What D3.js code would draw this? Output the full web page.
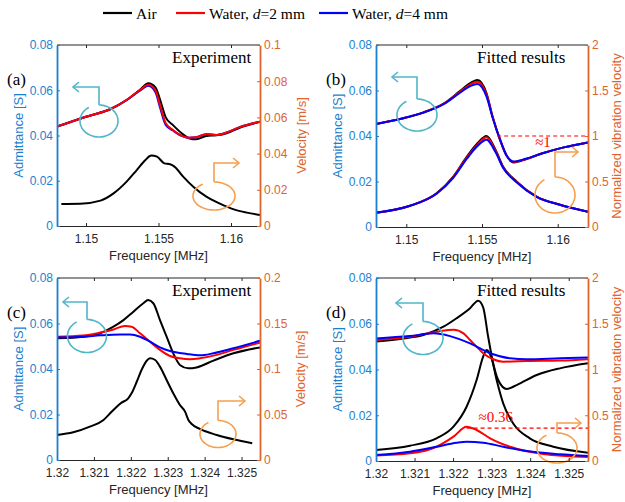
<!DOCTYPE html>
<html>
<head>
<meta charset="utf-8">
<script src="https://cdn.jsdelivr.net/npm/d3@7"></script>
<style>
  body { margin: 0; background: #fff; }
  svg { display: block; }
</style>
</head>
<body>
<svg id="chart" width="625" height="502"></svg>
<script>
// ---------- series ----------
const seriesNames  = ["Air", "Water, d=2 mm", "Water, d=4 mm"];
const seriesColors = ["#000000", "#ff0000", "#0000ff"];

// ---------- tick values ----------
const ticksF1   = [1.15, 1.155, 1.16];
const ticksF2   = [1.32, 1.321, 1.322, 1.323, 1.324, 1.325];
const ticksAdm  = [0, 0.02, 0.04, 0.06, 0.08];
const ticksVelA = [0, 0.02, 0.04, 0.06, 0.08, 0.1];
const ticksVelC = [0, 0.05, 0.1, 0.15, 0.2];
const ticksNorm = [0, 0.5, 1, 1.5, 2];

// ---------- (a) measured, 1.15 MHz mode ----------
const freqAdmA = [1.148, 1.1500, 1.1517, 1.1528, 1.1537, 1.1543, 1.1548, 1.1551, 1.1555, 1.1560, 1.1566, 1.1571, 1.1576, 1.1583, 1.1590, 1.1597, 1.1606, 1.162];
const admAirA  = [0.0439, 0.0483, 0.0517, 0.0557, 0.0601, 0.0631, 0.0612, 0.0560, 0.0480, 0.0446, 0.0410, 0.0388, 0.0383, 0.0398, 0.0401, 0.0410, 0.0434, 0.0461];
const admW2A   = [0.0439, 0.0483, 0.0517, 0.0557, 0.0600, 0.0624, 0.0598, 0.0535, 0.0454, 0.0424, 0.0398, 0.0390, 0.0392, 0.0407, 0.0402, 0.0413, 0.0437, 0.0461];
const admW4A   = [0.0439, 0.0483, 0.0517, 0.0556, 0.0597, 0.0620, 0.0590, 0.0525, 0.0447, 0.0422, 0.0398, 0.0390, 0.0392, 0.0406, 0.0402, 0.0413, 0.0437, 0.0461];
const freqVelA = [1.1483, 1.1496, 1.1510, 1.1519, 1.1528, 1.1535, 1.1541, 1.1545, 1.1549, 1.1554, 1.1558, 1.1561, 1.1567, 1.1574, 1.1583, 1.1592, 1.1602, 1.1611, 1.162];
const velAirA  = [0.0122, 0.0123, 0.0140, 0.0180, 0.0245, 0.0309, 0.0365, 0.0389, 0.0383, 0.0346, 0.0341, 0.0328, 0.0273, 0.0217, 0.0162, 0.0125, 0.0092, 0.0074, 0.0061];

// ---------- (b) fitted, 1.15 MHz mode ----------
const freqAdmB = [1.148, 1.1498, 1.1511, 1.1525, 1.1535, 1.1541, 1.1547, 1.1553, 1.1557, 1.1562, 1.1566, 1.1571, 1.1579, 1.1590, 1.1604, 1.162];
const admAirB  = [0.0453, 0.0478, 0.0503, 0.0544, 0.0595, 0.0627, 0.0646, 0.0588, 0.0485, 0.0382, 0.0316, 0.0284, 0.0298, 0.0324, 0.0350, 0.0372];
const admW2B   = [0.0453, 0.0478, 0.0503, 0.0543, 0.0592, 0.0622, 0.0639, 0.0582, 0.0484, 0.0382, 0.0317, 0.0286, 0.0299, 0.0324, 0.0350, 0.0372];
const admW4B   = [0.0453, 0.0478, 0.0502, 0.0541, 0.0588, 0.0615, 0.0629, 0.0573, 0.0481, 0.0383, 0.0318, 0.0288, 0.0300, 0.0324, 0.0350, 0.0372];
const freqVelB = [1.148, 1.1502, 1.1520, 1.1531, 1.1540, 1.1547, 1.1553, 1.1559, 1.1564, 1.1573, 1.1586, 1.1602, 1.162];
const velAirB  = [0.157, 0.231, 0.370, 0.553, 0.773, 0.920, 1.000, 0.846, 0.663, 0.498, 0.333, 0.242, 0.168];
const velW2B   = [0.157, 0.231, 0.368, 0.548, 0.763, 0.905, 0.985, 0.835, 0.657, 0.495, 0.333, 0.242, 0.168];
const velW4B   = [0.157, 0.230, 0.365, 0.540, 0.750, 0.890, 0.960, 0.820, 0.648, 0.490, 0.332, 0.242, 0.168];
const ratioB   = 1;

// ---------- (c) measured, 1.32 MHz mode ----------
const freqAdmAirC = [1.32, 1.32071, 1.32117, 1.32153, 1.3218, 1.32207, 1.32234, 1.32247, 1.32261, 1.32279, 1.32297, 1.32315, 1.32333, 1.32356, 1.32378, 1.32424, 1.32478, 1.3255];
const admAirC     = [0.0535, 0.0542, 0.0557, 0.0586, 0.0615, 0.0652, 0.0689, 0.0703, 0.0689, 0.0615, 0.0542, 0.0469, 0.0418, 0.0403, 0.0407, 0.0437, 0.0469, 0.0495];
const freqAdmW2C  = [1.32, 1.32071, 1.32117, 1.32153, 1.32184, 1.32202, 1.32225, 1.32252, 1.32279, 1.32306, 1.32333, 1.3236, 1.32387, 1.32433, 1.32478, 1.3255];
const admW2C      = [0.0542, 0.0547, 0.0560, 0.0574, 0.0589, 0.0586, 0.0557, 0.0520, 0.0484, 0.0457, 0.0447, 0.0443, 0.0447, 0.0462, 0.0484, 0.0516];
const freqAdmW4C  = [1.32, 1.32071, 1.32117, 1.32171, 1.32198, 1.32225, 1.32252, 1.32279, 1.32306, 1.32352, 1.32387, 1.32424, 1.32478, 1.3255];
const admW4C      = [0.0539, 0.0542, 0.0548, 0.0552, 0.0552, 0.0542, 0.0520, 0.0495, 0.0479, 0.0466, 0.0460, 0.0469, 0.0491, 0.0524];
const freqVelC    = [1.32, 1.32044, 1.32089, 1.32126, 1.32144, 1.32162, 1.32175, 1.32193, 1.32202, 1.32216, 1.32229, 1.32243, 1.32252, 1.32266, 1.32279, 1.32297, 1.32315, 1.32333, 1.32347, 1.32356, 1.32365, 1.32387, 1.32433, 1.32478, 1.32529];
const velAirC     = [0.0275, 0.0304, 0.0366, 0.0440, 0.0513, 0.0586, 0.0630, 0.0678, 0.0733, 0.0860, 0.0989, 0.1091, 0.1117, 0.1099, 0.1026, 0.0879, 0.0733, 0.0604, 0.0531, 0.0440, 0.0396, 0.0341, 0.0275, 0.0227, 0.0183];

// ---------- (d) fitted, 1.32 MHz mode ----------
const freqAdmAirD = [1.32, 1.32071, 1.32123, 1.32175, 1.32209, 1.32244, 1.32265, 1.32278, 1.32291, 1.32303, 1.32317, 1.32339, 1.32365, 1.32417, 1.32477, 1.3255];
const admAirD     = [0.0522, 0.0536, 0.0551, 0.0587, 0.0624, 0.0668, 0.0701, 0.0672, 0.0543, 0.0435, 0.0354, 0.0315, 0.0332, 0.0376, 0.0405, 0.0427];
const freqAdmW2D  = [1.32, 1.32088, 1.32157, 1.32201, 1.32227, 1.32244, 1.32261, 1.32278, 1.32304, 1.3233, 1.32391, 1.32477, 1.3255];
const admW2D      = [0.0529, 0.0543, 0.0565, 0.0574, 0.0558, 0.0529, 0.0500, 0.0471, 0.0445, 0.0434, 0.0437, 0.0439, 0.0445];
const freqAdmW4D  = [1.32, 1.32088, 1.32149, 1.32192, 1.32244, 1.32296, 1.32348, 1.32391, 1.32477, 1.3255];
const admW4D      = [0.0536, 0.0546, 0.0558, 0.0546, 0.0514, 0.0471, 0.0449, 0.0445, 0.0449, 0.0452];
const freqVelAirD = [1.32, 1.32088, 1.32157, 1.32201, 1.32235, 1.32261, 1.32278, 1.32287, 1.323, 1.32313, 1.3233, 1.32356, 1.32399, 1.3246, 1.3255];
const velAirD     = [0.120, 0.167, 0.248, 0.375, 0.593, 0.885, 1.140, 1.213, 1.120, 0.885, 0.630, 0.410, 0.248, 0.156, 0.091];
const freqVelW2D  = [1.32, 1.32088, 1.32157, 1.32201, 1.32235, 1.32261, 1.32296, 1.32348, 1.32434, 1.3255];
const velW2D      = [0.060, 0.084, 0.156, 0.266, 0.375, 0.339, 0.248, 0.156, 0.077, 0.045];
const freqVelW4D  = [1.32, 1.32088, 1.32157, 1.32209, 1.32235, 1.32278, 1.3233, 1.32391, 1.32477, 1.3255];
const velW4D      = [0.066, 0.102, 0.156, 0.200, 0.211, 0.200, 0.156, 0.109, 0.073, 0.055];
const ratioD      = 0.36;

// ---------- styling ----------
const leftColor  = "#1b7fcf";
const rightColor = "#e0642c";
const cyanArrow  = "#52b5c8";
const orangeArrow = "#f5a050";
const sansFont  = "'Liberation Sans', Arial, sans-serif";
const serifFont = "'Liberation Serif', 'Times New Roman', serif";
const fmt = d3.format("~g");

const svg = d3.select("#chart");

const pts = (f, v) => f.map((x, i) => [x, v[i]]);

// ---------- legend ----------
const legend = svg.append("g");
const legendX = [103, 176, 319];
seriesNames.forEach((name, i) => {
  const g = legend.append("g").attr("transform", `translate(${legendX[i]},13)`);
  g.append("line").attr("x1", 0).attr("x2", 29).attr("y1", 0).attr("y2", 0)
    .attr("stroke", seriesColors[i]).attr("stroke-width", 2.2);
  const t = g.append("text").attr("x", 33).attr("y", 5.5)
    .attr("font-family", serifFont).attr("font-size", 15.5).attr("fill", "#000");
  const k = name.indexOf("d=");
  if (k < 0) { t.text(name); }
  else {
    t.append("tspan").text(name.slice(0, k));
    t.append("tspan").attr("font-style", "italic").text("d");
    t.append("tspan").text(name.slice(k + 1));
  }
});

// ---------- panels ----------
const panels = [
  {
    id: "a", x0: 57, x1: 260, y0: 45, y1: 226,
    fDomain: [1.148, 1.162], fTicks: ticksF1,
    rMax: 0.1, rTicks: ticksVelA, rLabel: "Velocity [m/s]", rLabelDx: 46,
    title: "Experiment", titleX: 115, tag: "(a)",
    left: [
      { f: freqAdmA, v: admAirA, c: 0 },
      { f: freqAdmA, v: admW4A, c: 2 },
      { f: freqAdmA, v: admW2A, c: 1 }
    ],
    right: [ { f: freqVelA, v: velAirA, c: 0 } ],
    arrows: { cyan: { hx: 16, hy: 42, cx: 42, ey: 76, rx: 19, ry: 16 },
              orange: { hx: 182, hy: 118, cx: 157, ey: 151, rx: 21, ry: 14 } }
  },
  {
    id: "b", x0: 376, x1: 588, y0: 45, y1: 227,
    fDomain: [1.148, 1.162], fTicks: ticksF1,
    rMax: 2, rTicks: ticksNorm, rLabel: "Normalized vibration velocity", rLabelDx: 33,
    title: "Fitted results", titleX: 101, tag: "(b)",
    left: [
      { f: freqAdmB, v: admAirB, c: 0 },
      { f: freqAdmB, v: admW2B, c: 1 },
      { f: freqAdmB, v: admW4B, c: 2 }
    ],
    right: [
      { f: freqVelB, v: velAirB, c: 0 },
      { f: freqVelB, v: velW2B, c: 1 },
      { f: freqVelB, v: velW4B, c: 2 }
    ],
    ratio: { value: ratioB, label: "\u22481", fStart: 1.1560, labelDx: 38, labelDy: 11 },
    arrows: { cyan: { hx: 16, hy: 32, cx: 41, ey: 70, rx: 20, ry: 16 },
              orange: { hx: 202, hy: 107, cx: 179, ey: 150, rx: 20, ry: 18 } }
  },
  {
    id: "c", x0: 57, x1: 260, y0: 278, y1: 460,
    fDomain: [1.32, 1.3255], fTicks: ticksF2,
    rMax: 0.2, rTicks: ticksVelC, rLabel: "Velocity [m/s]", rLabelDx: 45,
    title: "Experiment", titleX: 115, tag: "(c)",
    left: [
      { f: freqAdmAirC, v: admAirC, c: 0 },
      { f: freqAdmW2C, v: admW2C, c: 1 },
      { f: freqAdmW4C, v: admW4C, c: 2 }
    ],
    right: [ { f: freqVelC, v: velAirC, c: 0 } ],
    arrows: { cyan: { hx: 6, hy: 24, cx: 30, ey: 58, rx: 19.5, ry: 16.5 },
              orange: { hx: 188, hy: 123, cx: 161, ey: 156, rx: 18, ry: 13.5 } }
  },
  {
    id: "d", x0: 376, x1: 588, y0: 278, y1: 461,
    fDomain: [1.32, 1.3255], fTicks: ticksF2,
    rMax: 2, rTicks: ticksNorm, rLabel: "Normalized vibration velocity", rLabelDx: 33,
    title: "Fitted results", titleX: 101, tag: "(d)",
    left: [
      { f: freqAdmAirD, v: admAirD, c: 0 },
      { f: freqAdmW2D, v: admW2D, c: 1 },
      { f: freqAdmW4D, v: admW4D, c: 2 }
    ],
    right: [
      { f: freqVelAirD, v: velAirD, c: 0 },
      { f: freqVelW2D, v: velW2D, c: 1 },
      { f: freqVelW4D, v: velW4D, c: 2 }
    ],
    ratio: { value: ratioD, label: "\u22480.36", fStart: 1.32235, labelDx: 12, labelDy: -6 },
    arrows: { cyan: { hx: 20, hy: 25, cx: 47, ey: 60, rx: 20, ry: 16.5 },
              orange: { hx: 205, hy: 145, cx: 181, ey: 170, rx: 20, ry: 15 } }
  }
];

function curlArrow(g, a, color, dir) {
  // stem from the loop top, bend, and run to the arrow head
  const top = a.ey - a.ry;
  g.append("path")
    .attr("d", `M${a.cx},${top} L${a.cx},${a.hy} L${a.hx},${a.hy}`)
    .attr("fill", "none").attr("stroke", color).attr("stroke-width", 1.6);
  const s = dir;   // -1 points left, +1 points right
  g.append("path")
    .attr("d", `M${a.hx - s * 6},${a.hy - 5} L${a.hx},${a.hy} L${a.hx - s * 6},${a.hy + 5}`)
    .attr("fill", "none").attr("stroke", color).attr("stroke-width", 1.6);
  // loop around the curve, left slightly open near the stem
  const pts = d3.range(-90, 242, 4).map(t => {
    const r = t * Math.PI / 180;
    return [a.cx + a.rx * Math.cos(r), a.ey + a.ry * Math.sin(r)];
  });
  g.append("path").attr("d", d3.line().curve(d3.curveCatmullRom)(pts))
    .attr("fill", "none").attr("stroke", color).attr("stroke-width", 1.6);
}

panels.forEach(p => {
  const x  = d3.scaleLinear().domain(p.fDomain).range([p.x0, p.x1]);
  const yL = d3.scaleLinear().domain([0, 0.08]).range([p.y1, p.y0]);
  const yR = d3.scaleLinear().domain([0, p.rMax]).range([p.y1, p.y0]);
  const g = svg.append("g");

  const clipId = "clip-" + p.id;
  svg.append("clipPath").attr("id", clipId).append("rect")
    .attr("x", p.x0).attr("y", p.y0).attr("width", p.x1 - p.x0).attr("height", p.y1 - p.y0);

  const plot = g.append("g").attr("clip-path", `url(#${clipId})`);
  const lineL = d3.line().x(d => x(d[0])).y(d => yL(d[1])).curve(d3.curveMonotoneX);
  const lineR = d3.line().x(d => x(d[0])).y(d => yR(d[1])).curve(d3.curveMonotoneX);

  p.right.forEach(s => {
    plot.append("path").attr("d", lineR(pts(s.f, s.v)))
      .attr("fill", "none").attr("stroke", seriesColors[s.c]).attr("stroke-width", 2)
      .attr("stroke-linejoin", "round");
  });
  p.left.forEach(s => {
    plot.append("path").attr("d", lineL(pts(s.f, s.v)))
      .attr("fill", "none").attr("stroke", seriesColors[s.c]).attr("stroke-width", 2)
      .attr("stroke-linejoin", "round");
  });

  // reference level for the peak ratio
  if (p.ratio) {
    const yy = yR(p.ratio.value);
    g.append("line").attr("x1", x(p.ratio.fStart)).attr("x2", p.x1)
      .attr("y1", yy).attr("y2", yy)
      .attr("stroke", "#ff0000").attr("stroke-width", 1.2).attr("stroke-dasharray", "4,3");
    g.append("text").attr("x", x(p.ratio.fStart) + p.ratio.labelDx).attr("y", yy + p.ratio.labelDy)
      .attr("font-family", serifFont).attr("font-size", 15).attr("fill", "#ff0000")
      .text(p.ratio.label);
  }

  // axis-ownership arrows
  const ag = g.append("g").attr("transform", `translate(${p.x0},${p.y0})`);
  curlArrow(ag, p.arrows.cyan, cyanArrow, -1);
  curlArrow(ag, p.arrows.orange, orangeArrow, 1);

  // frame top / bottom
  g.append("line").attr("x1", p.x0).attr("x2", p.x1).attr("y1", p.y0).attr("y2", p.y0)
    .attr("stroke", "#262626").attr("stroke-width", 1);

  // bottom axis
  const xa = g.append("g").attr("transform", `translate(0,${p.y1})`)
    .call(d3.axisBottom(x).tickValues(p.fTicks).tickFormat(fmt).tickSize(-3).tickPadding(8).tickSizeOuter(0));
  xa.select(".domain").attr("stroke", "#262626");
  xa.selectAll(".tick line").attr("stroke", "#262626");
  xa.selectAll("text").attr("font-family", sansFont).attr("font-size", 12).attr("fill", "#262626");

  // top axis ticks (box)
  const xt = g.append("g").attr("transform", `translate(0,${p.y0})`)
    .call(d3.axisTop(x).tickValues(p.fTicks).tickFormat("").tickSize(-3).tickSizeOuter(0));
  xt.select(".domain").remove();
  xt.selectAll(".tick line").attr("stroke", "#262626");

  // left axis
  const la = g.append("g").attr("transform", `translate(${p.x0},0)`)
    .call(d3.axisLeft(yL).tickValues(ticksAdm).tickFormat(fmt).tickSize(-3).tickPadding(4).tickSizeOuter(0));
  la.select(".domain").attr("stroke", leftColor).attr("stroke-width", 1.8);
  la.selectAll(".tick line").attr("stroke", leftColor);
  la.selectAll("text").attr("font-family", sansFont).attr("font-size", 12).attr("fill", leftColor);

  // right axis
  const ra = g.append("g").attr("transform", `translate(${p.x1},0)`)
    .call(d3.axisRight(yR).tickValues(p.rTicks).tickFormat(fmt).tickSize(-3).tickPadding(4).tickSizeOuter(0));
  ra.select(".domain").attr("stroke", rightColor).attr("stroke-width", 1.8);
  ra.selectAll(".tick line").attr("stroke", rightColor);
  ra.selectAll("text").attr("font-family", sansFont).attr("font-size", 12).attr("fill", rightColor);

  // axis titles
  const cy = (p.y0 + p.y1) / 2;
  g.append("text").attr("transform", `translate(${p.x0 - 34},${cy}) rotate(-90)`)
    .attr("text-anchor", "middle").attr("font-family", sansFont).attr("font-size", 13)
    .attr("fill", leftColor).text("Admittance [S]");
  g.append("text").attr("transform", `translate(${p.x1 + p.rLabelDx},${cy}) rotate(-90)`)
    .attr("text-anchor", "middle").attr("font-family", sansFont).attr("font-size", 13)
    .attr("fill", rightColor).text(p.rLabel);
  g.append("text").attr("x", (p.x0 + p.x1) / 2).attr("y", p.y1 + 34)
    .attr("text-anchor", "middle").attr("font-family", sansFont).attr("font-size", 13)
    .attr("fill", "#262626").text("Frequency [MHz]");

  // panel title and tag
  g.append("text").attr("x", p.x0 + p.titleX).attr("y", p.y0 + 18)
    .attr("font-family", serifFont).attr("font-size", 17).attr("fill", "#000").text(p.title);
  g.append("text").attr("x", p.x0 - 50).attr("y", p.y0 + 40)
    .attr("font-family", serifFont).attr("font-size", 17).attr("fill", "#000").text(p.tag);
});
</script>
</body>
</html>
